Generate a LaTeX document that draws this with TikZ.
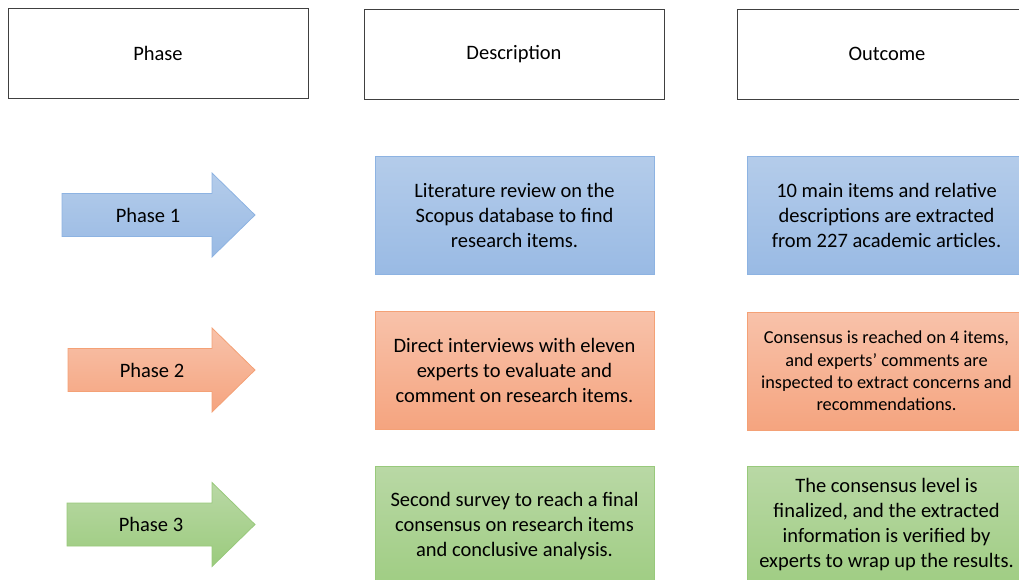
\documentclass[tikz,border=0pt]{standalone}
\usepackage{fontspec}
\setmainfont{Carlito}
\usetikzlibrary{positioning}

\definecolor{blueTop}{HTML}{B4CCEA}
\definecolor{blueBot}{HTML}{99BAE4}
\definecolor{blueLine}{HTML}{8DB3E2}
\definecolor{orangeTop}{HTML}{F8C2AA}
\definecolor{orangeBot}{HTML}{F5A47F}
\definecolor{orangeLine}{HTML}{F4A176}
\definecolor{greenTop}{HTML}{B9D8A5}
\definecolor{greenBot}{HTML}{9BCB7D}
\definecolor{greenLine}{HTML}{98C97B}
\definecolor{headLine}{HTML}{404040}

\begin{document}
\begin{tikzpicture}[x=1pt, y=-1pt,
    every node/.style={font=\fontsize{20.5}{25}\selectfont, align=center},
    header/.style={draw=headLine, line width=0.8pt, minimum width=300pt, minimum height=90pt},
    cell/.style={line width=0.8pt, minimum width=279pt, minimum height=118pt, inner sep=2pt},
    bluecell/.style={cell, draw=blueLine, top color=blueTop, bottom color=blueBot},
    orangecell/.style={cell, draw=orangeLine, top color=orangeTop, bottom color=orangeBot},
    greencell/.style={cell, draw=greenLine, top color=greenTop, bottom color=greenBot, minimum height=140pt}]
    \useasboundingbox (0,0) rectangle (1019,579);
    \clip (0,0) rectangle (1019,579);

    % column headers
    \node [header] (phase) at (158,53) {Phase};
    \node [header] (desc) at (514,54) {Description};
    \node [header] (outcome) at (887,54) {Outcome};

    % phase arrows
    \draw [draw=blueLine, line width=0.8pt, top color=blueTop, bottom color=blueBot]
        (62,193.5) -- (212,193.5) -- (212,173) -- (255,215) -- (212,257) -- (212,236.5) -- (62,236.5) -- cycle;
    \draw [draw=orangeLine, line width=0.8pt, top color=orangeTop, bottom color=orangeBot]
        (68,348.5) -- (212,348.5) -- (212,328) -- (255,370) -- (212,412) -- (212,391.5) -- (68,391.5) -- cycle;
    \draw [draw=greenLine, line width=0.8pt, top color=greenTop, bottom color=greenBot]
        (67,503) -- (212,503) -- (212,482.5) -- (255,524.5) -- (212,566.5) -- (212,546) -- (67,546) -- cycle;
    \node (p1) at (148,215) {Phase 1};
    \node (p2) at (152,370) {Phase 2};
    \node (p3) at (151,524.5) {Phase 3};

    % descriptions
    \node [bluecell] (d1) at (514.5,215.5) {Literature review on the\\Scopus database to find\\research items.};
    \node [orangecell] (d2) at (514.5,370.5) {Direct interviews with eleven\\experts to evaluate and\\comment on research items.};
    \node [greencell] (d3) at (514.5,536) {};
    \node (d3txt) at (514.5,526) {Second survey to reach a final\\consensus on research items\\and conclusive analysis.};

    % outcomes
    \node [bluecell] (o1) at (886.5,215.5) {10 main items and relative\\descriptions are extracted\\from 227 academic articles.};
    \node [orangecell, font=\fontsize{18.3}{22.3}\selectfont] (o2) at (886.5,371) {Consensus is reached on 4 items,\\and experts’ comments are\\inspected to extract concerns and\\recommendations.};
    \node [greencell] (o3) at (886.5,536) {};
    \node (o3txt) at (886.5,525) {The consensus level is\\finalized, and the extracted\\information is verified by\\experts to wrap up the results.};
\end{tikzpicture}
\end{document}
